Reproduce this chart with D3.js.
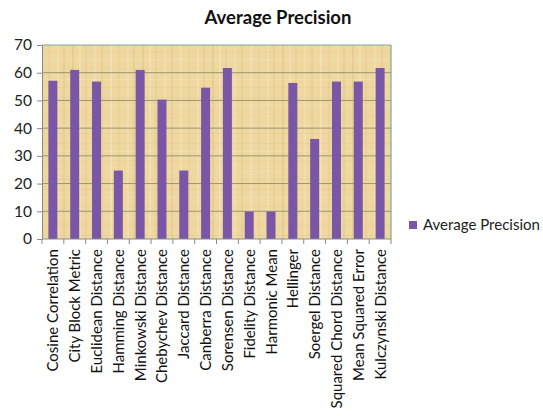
<!DOCTYPE html>
<html>
<head>
<meta charset="utf-8">
<script src="https://cdn.jsdelivr.net/npm/d3@7"></script>
<style>
  html, body { margin: 0; padding: 0; background: #ffffff; }
  svg { display: block; font-family: Lato, "Open Sans", sans-serif; }
</style>
</head>
<body>
<svg id="chart" width="543" height="416"></svg>
<script>
// Similarity measures and their average precision (%)
const categories = [
  "Cosine Correlation", "City Block Metric", "Euclidean Distance", "Hamming Distance",
  "Minkowski Distance", "Chebychev Distance", "Jaccard Distance", "Canberra Distance",
  "Sorensen Distance", "Fidelity Distance", "Harmonic Mean", "Hellinger",
  "Soergel Distance", "Squared Chord Distance", "Mean Squared Error", "Kulczynski Distance"
];
const averagePrecision = [57.1, 61.0, 56.8, 24.7, 61.0, 50.3, 24.7, 54.6,
                          61.7, 9.9, 9.9, 56.3, 36.1, 56.8, 56.8, 61.7];
const yTicks = [0, 10, 20, 30, 40, 50, 60, 70];
const seriesName = "Average Precision";
const chartTitle = "Average Precision";

const svg = d3.select("#chart");
const plot = { left: 42, top: 45, right: 391, bottom: 239 };

const xCell = d3.scaleBand().domain(categories).range([plot.left, plot.right]);
const y = d3.scaleLinear().domain([0, 70]).range([plot.bottom, plot.top]);

// Papyrus-like plot background
const defs = svg.append("defs");
const pat = defs.append("pattern").attr("id", "papyrus").attr("patternUnits", "userSpaceOnUse")
  .attr("width", 70).attr("height", 46);
pat.append("rect").attr("width", 70).attr("height", 46).attr("fill", "#efd8a0");
[[2, 0.16, "#b8955a"], [9, 0.35, "#f8ead0"], [15, 0.10, "#b8955a"], [24, 0.30, "#f8ead0"],
 [31, 0.14, "#b8955a"], [40, 0.35, "#f8ead0"], [48, 0.09, "#b8955a"], [57, 0.30, "#f8ead0"],
 [63, 0.13, "#b8955a"]].forEach(([px, o, c]) => {
  pat.append("rect").attr("x", px).attr("y", 0).attr("width", 2).attr("height", 46)
    .attr("fill", c).attr("opacity", o);
});
[[5, 0.10, "#b8955a"], [13, 0.30, "#f8ead0"], [22, 0.08, "#b8955a"], [33, 0.25, "#f8ead0"], [41, 0.09, "#b8955a"]]
  .forEach(([py, o, c]) => {
    pat.append("rect").attr("x", 0).attr("y", py).attr("width", 70).attr("height", 1)
      .attr("fill", c).attr("opacity", o);
  });

svg.append("rect")
  .attr("x", plot.left).attr("y", plot.top)
  .attr("width", plot.right - plot.left).attr("height", plot.bottom - plot.top)
  .attr("fill", "url(#papyrus)");

// Horizontal gridlines
svg.append("g").selectAll("line").data(yTicks.filter(d => d > 0 && d < 70)).join("line")
  .attr("x1", plot.left).attr("x2", plot.right)
  .attr("y1", d => y(d)).attr("y2", d => y(d))
  .attr("stroke", "#9b9473").attr("stroke-width", 1);

// Plot border
svg.append("line").attr("x1", plot.left).attr("x2", plot.right)
  .attr("y1", plot.top).attr("y2", plot.top).attr("stroke", "#7fa8a0");
svg.append("line").attr("x1", plot.right).attr("x2", plot.right)
  .attr("y1", plot.top).attr("y2", plot.bottom).attr("stroke", "#5f9a80");

// Bars
svg.append("g").selectAll("rect").data(categories).join("rect")
  .attr("x", (d) => xCell(d) + xCell.bandwidth() / 2 - 4.5)
  .attr("width", 9)
  .attr("y", (d, i) => y(averagePrecision[i]))
  .attr("height", (d, i) => y(0) - y(averagePrecision[i]))
  .attr("fill", "#7a57a6");

// Y axis
const yAxis = svg.append("g").attr("transform", `translate(${plot.left},0)`)
  .call(d3.axisLeft(y).tickValues(yTicks).tickSize(5).tickPadding(5));
yAxis.select(".domain").attr("stroke", "#8a8a8a");
yAxis.selectAll(".tick line").attr("stroke", "#8a8a8a");
yAxis.selectAll("text").attr("font-size", 15.5).attr("fill", "#222").attr("font-family", "Lato, sans-serif");

// X axis: ticks at category boundaries, labels rotated
const xAxisG = svg.append("g");
xAxisG.append("line").attr("x1", plot.left).attr("x2", plot.right)
  .attr("y1", plot.bottom).attr("y2", plot.bottom).attr("stroke", "#8a8a8a");
const bounds = categories.map(c => xCell(c)).concat([plot.right]);
xAxisG.selectAll("line.tick").data(bounds).join("line").attr("class", "tick")
  .attr("x1", d => d).attr("x2", d => d)
  .attr("y1", plot.bottom).attr("y2", plot.bottom + 5)
  .attr("stroke", "#8a8a8a");
xAxisG.selectAll("text").data(categories).join("text")
  .attr("transform", d => `translate(${xCell(d) + xCell.bandwidth() / 2 + 5.5},${plot.bottom + 10}) rotate(-90)`)
  .attr("text-anchor", "end")
  .attr("font-size", 15)
  .attr("fill", "#111")
  .text(d => d);

// Title
svg.append("text").attr("x", 278).attr("y", 24).attr("text-anchor", "middle")
  .attr("font-size", 18.5).attr("font-weight", "bold").attr("fill", "#111")
  .text(chartTitle);

// Legend
const legend = svg.append("g").attr("transform", "translate(409,221)");
legend.append("rect").attr("width", 8).attr("height", 8).attr("fill", "#7a57a6");
legend.append("text").attr("x", 14).attr("y", 9).attr("font-size", 15).attr("fill", "#222")
  .text(seriesName);
</script>
</body>
</html>
